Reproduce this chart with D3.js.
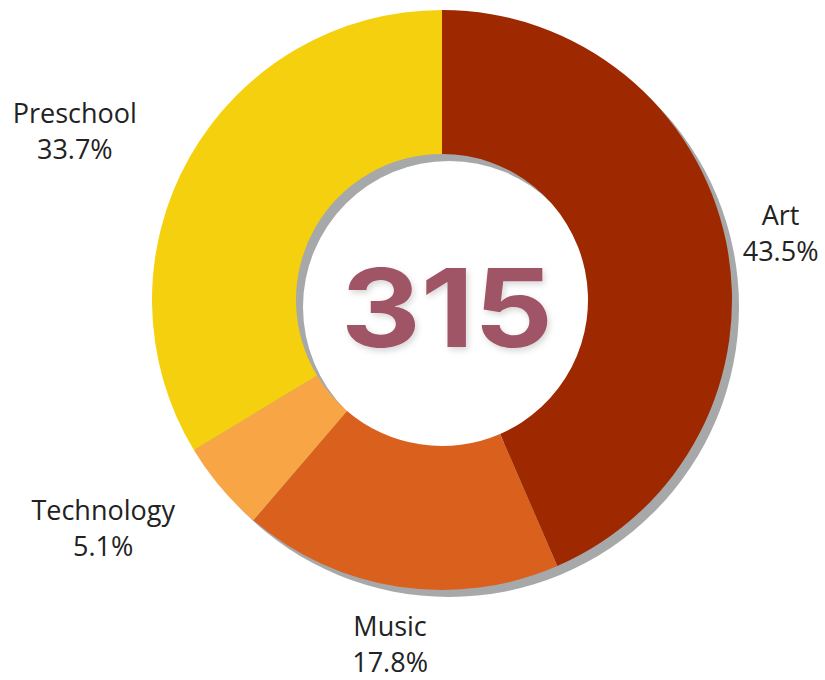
<!DOCTYPE html>
<html><head><meta charset="utf-8">
<script src="https://cdn.jsdelivr.net/npm/d3@7"></script>
<style>html,body{margin:0;padding:0;background:#fff;}</style>
</head><body>
<svg id="chart" width="825" height="680"></svg>
<script>
const categories = ["Art", "Music", "Technology", "Preschool"];
const counts = [137, 56, 16, 106];
const percentLabels = ["43.5%", "17.8%", "5.1%", "33.7%"];
const colors = ["#9E2900", "#DA601E", "#F8A545", "#F5D00F"];
const totalLabel = "315";

const svg = d3.select("#chart");
const cx = 442, cy = 300, R = 290, r = 146;
const data = categories.map((c, i) => ({name: c, value: counts[i], pct: percentLabels[i], color: colors[i]}));
const pie = d3.pie().value(d => d.value).sort(null);
const arcs = pie(data);
const arc = d3.arc().innerRadius(r).outerRadius(R);

const defs = svg.append("defs");
const f = defs.append("filter").attr("id","ts").attr("x","-20%").attr("y","-20%").attr("width","140%").attr("height","140%");
f.append("feDropShadow").attr("dx",2).attr("dy",3).attr("stdDeviation",3).attr("flood-color","#000").attr("flood-opacity",0.16);

// shadow ring
svg.append("g").attr("transform", `translate(${cx+7},${cy+7})`)
  .append("path")
  .attr("d", d3.arc().innerRadius(r).outerRadius(R).startAngle(0).endAngle(2*Math.PI)())
  .attr("fill", "#A7A8AA");

const g = svg.append("g").attr("transform", `translate(${cx},${cy})`);
g.selectAll("path.slice").data(arcs).join("path")
  .attr("class","slice")
  .attr("d", arc)
  .attr("fill", d => d.data.color);

g.append("text")
  .attr("x", 5).attr("y", 47)
  .attr("text-anchor","middle")
  .attr("font-family","Inter, 'Open Sans', sans-serif")
  .attr("font-weight", 700)
  .attr("font-size", 108)
  .attr("textLength", 212)
  .attr("lengthAdjust", "spacingAndGlyphs")
  .attr("fill", "#A05566")
  .attr("filter","url(#ts)")
  .text(totalLabel);

// labels
const labelR = 355;
const lineGap = 36;
const adjust = {Art: [-9, -3], Music: [1, -15], Technology: [-68, -10], Preschool: [-58, -3]};
const lab = svg.append("g");
arcs.forEach(a => {
  const m = (a.startAngle + a.endAngle) / 2;
  const adj = adjust[a.data.name];
  const x = cx + Math.sin(m) * labelR + adj[0];
  const y = cy - Math.cos(m) * labelR + adj[1];
  const t = lab.append("text")
    .attr("text-anchor","middle")
    .attr("font-family","'Open Sans', sans-serif")
    .attr("font-size", 27)
    .attr("fill", "#222");
  t.append("tspan").attr("x", x).attr("y", y).text(a.data.name);
  t.append("tspan").attr("x", x).attr("y", y + lineGap).text(a.data.pct);
});
</script>
</body></html>
